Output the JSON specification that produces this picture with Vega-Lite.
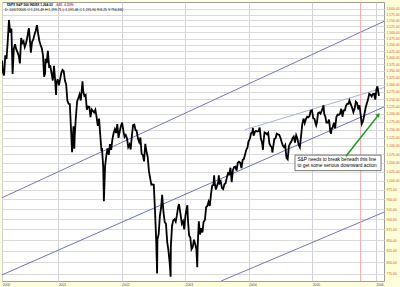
{
  "$schema": "https://vega.github.io/schema/vega-lite/v6.json",
  "width": 382,
  "height": 279,
  "autosize": {"type": "none"},
  "padding": {"left": 2, "top": 2, "right": 16, "bottom": 6},
  "background": "#fefed8",
  "config": {
    "view": {"fill": "#ffffff", "stroke": "#9c9c9c", "strokeWidth": 1},
    "font": "Liberation Sans"
  },
  "datasets": {
    "channels": [
      {"line": "A", "date": "2000-02-13", "value": 954.3},
      {"line": "A", "date": "2006-02-18", "value": 1546.1},
      {"line": "B", "date": "2000-02-13", "value": 772.8},
      {"line": "B", "date": "2006-02-18", "value": 1223.4},
      {"line": "C", "date": "2003-12-12", "value": 1149.7},
      {"line": "C", "date": "2006-02-18", "value": 1290.0},
      {"line": "D", "date": "2003-07-27", "value": 760.0},
      {"line": "D", "date": "2006-02-18", "value": 917.5}
    ],
    "spx": [
      {"date": "2000-02-14", "value": 1389}, {"date": "2000-02-18", "value": 1346}, {"date": "2000-02-25", "value": 1333},
      {"date": "2000-03-03", "value": 1409}, {"date": "2000-03-10", "value": 1395}, {"date": "2000-03-17", "value": 1464},
      {"date": "2000-03-24", "value": 1552}, {"date": "2000-03-31", "value": 1499}, {"date": "2000-04-07", "value": 1516},
      {"date": "2000-04-14", "value": 1339}, {"date": "2000-04-21", "value": 1434}, {"date": "2000-04-28", "value": 1452},
      {"date": "2000-05-05", "value": 1432}, {"date": "2000-05-12", "value": 1421}, {"date": "2000-05-19", "value": 1407},
      {"date": "2000-05-26", "value": 1378}, {"date": "2000-06-02", "value": 1477}, {"date": "2000-06-09", "value": 1457},
      {"date": "2000-06-16", "value": 1464}, {"date": "2000-06-23", "value": 1441}, {"date": "2000-06-30", "value": 1455},
      {"date": "2000-07-07", "value": 1478}, {"date": "2000-07-14", "value": 1509}, {"date": "2000-07-17", "value": 1517},
      {"date": "2000-07-21", "value": 1480}, {"date": "2000-07-28", "value": 1419}, {"date": "2000-08-04", "value": 1462},
      {"date": "2000-08-11", "value": 1471}, {"date": "2000-08-18", "value": 1491}, {"date": "2000-08-25", "value": 1507},
      {"date": "2000-09-01", "value": 1530}, {"date": "2000-09-08", "value": 1494}, {"date": "2000-09-15", "value": 1465},
      {"date": "2000-09-22", "value": 1449}, {"date": "2000-09-29", "value": 1436}, {"date": "2000-10-06", "value": 1408},
      {"date": "2000-10-12", "value": 1329}, {"date": "2000-10-18", "value": 1342}, {"date": "2000-10-20", "value": 1396},
      {"date": "2000-10-27", "value": 1379}, {"date": "2000-11-03", "value": 1426}, {"date": "2000-11-10", "value": 1365},
      {"date": "2000-11-17", "value": 1367}, {"date": "2000-11-24", "value": 1341}, {"date": "2000-12-01", "value": 1315},
      {"date": "2000-12-08", "value": 1369}, {"date": "2000-12-15", "value": 1313}, {"date": "2000-12-20", "value": 1264},
      {"date": "2000-12-22", "value": 1305}, {"date": "2000-12-29", "value": 1320}, {"date": "2001-01-05", "value": 1298},
      {"date": "2001-01-12", "value": 1318}, {"date": "2001-01-19", "value": 1342}, {"date": "2001-01-26", "value": 1354},
      {"date": "2001-02-02", "value": 1349}, {"date": "2001-02-09", "value": 1315}, {"date": "2001-02-16", "value": 1301},
      {"date": "2001-02-23", "value": 1245}, {"date": "2001-03-02", "value": 1234}, {"date": "2001-03-09", "value": 1233},
      {"date": "2001-03-16", "value": 1150}, {"date": "2001-03-22", "value": 1081}, {"date": "2001-03-30", "value": 1160},
      {"date": "2001-04-04", "value": 1091}, {"date": "2001-04-06", "value": 1128}, {"date": "2001-04-12", "value": 1183},
      {"date": "2001-04-20", "value": 1242}, {"date": "2001-04-27", "value": 1253}, {"date": "2001-05-04", "value": 1266},
      {"date": "2001-05-11", "value": 1245}, {"date": "2001-05-21", "value": 1312}, {"date": "2001-05-25", "value": 1277},
      {"date": "2001-06-01", "value": 1260}, {"date": "2001-06-08", "value": 1264}, {"date": "2001-06-15", "value": 1214},
      {"date": "2001-06-22", "value": 1225}, {"date": "2001-06-29", "value": 1224}, {"date": "2001-07-06", "value": 1190},
      {"date": "2001-07-13", "value": 1215}, {"date": "2001-07-20", "value": 1210}, {"date": "2001-07-27", "value": 1205},
      {"date": "2001-08-03", "value": 1214}, {"date": "2001-08-10", "value": 1190}, {"date": "2001-08-17", "value": 1162},
      {"date": "2001-08-24", "value": 1185}, {"date": "2001-08-31", "value": 1134}, {"date": "2001-09-07", "value": 1085},
      {"date": "2001-09-10", "value": 1093}, {"date": "2001-09-17", "value": 1039}, {"date": "2001-09-21", "value": 945},
      {"date": "2001-09-28", "value": 1041}, {"date": "2001-10-05", "value": 1071}, {"date": "2001-10-12", "value": 1092},
      {"date": "2001-10-19", "value": 1073}, {"date": "2001-10-26", "value": 1105}, {"date": "2001-11-02", "value": 1088},
      {"date": "2001-11-09", "value": 1120}, {"date": "2001-11-16", "value": 1139}, {"date": "2001-11-23", "value": 1151},
      {"date": "2001-11-30", "value": 1139}, {"date": "2001-12-07", "value": 1167}, {"date": "2001-12-14", "value": 1124},
      {"date": "2001-12-21", "value": 1144}, {"date": "2001-12-28", "value": 1161}, {"date": "2002-01-04", "value": 1172},
      {"date": "2002-01-11", "value": 1146}, {"date": "2002-01-18", "value": 1127}, {"date": "2002-01-25", "value": 1133},
      {"date": "2002-02-01", "value": 1122}, {"date": "2002-02-08", "value": 1096}, {"date": "2002-02-15", "value": 1104},
      {"date": "2002-02-22", "value": 1089}, {"date": "2002-03-01", "value": 1131}, {"date": "2002-03-08", "value": 1164},
      {"date": "2002-03-15", "value": 1166}, {"date": "2002-03-22", "value": 1148}, {"date": "2002-03-28", "value": 1147},
      {"date": "2002-04-05", "value": 1122}, {"date": "2002-04-12", "value": 1111}, {"date": "2002-04-19", "value": 1125},
      {"date": "2002-04-26", "value": 1076}, {"date": "2002-05-03", "value": 1073}, {"date": "2002-05-10", "value": 1054},
      {"date": "2002-05-17", "value": 1106}, {"date": "2002-05-24", "value": 1083}, {"date": "2002-05-31", "value": 1067},
      {"date": "2002-06-07", "value": 1027}, {"date": "2002-06-14", "value": 1007}, {"date": "2002-06-21", "value": 989},
      {"date": "2002-06-28", "value": 990}, {"date": "2002-07-05", "value": 989}, {"date": "2002-07-12", "value": 921},
      {"date": "2002-07-19", "value": 847}, {"date": "2002-07-24", "value": 776}, {"date": "2002-07-26", "value": 852},
      {"date": "2002-08-02", "value": 864}, {"date": "2002-08-09", "value": 908}, {"date": "2002-08-16", "value": 928},
      {"date": "2002-08-22", "value": 962}, {"date": "2002-08-30", "value": 916}, {"date": "2002-09-06", "value": 893},
      {"date": "2002-09-13", "value": 889}, {"date": "2002-09-20", "value": 846}, {"date": "2002-09-27", "value": 827},
      {"date": "2002-10-04", "value": 800}, {"date": "2002-10-10", "value": 769}, {"date": "2002-10-11", "value": 835},
      {"date": "2002-10-18", "value": 884}, {"date": "2002-10-25", "value": 897}, {"date": "2002-11-01", "value": 900},
      {"date": "2002-11-08", "value": 894}, {"date": "2002-11-15", "value": 910}, {"date": "2002-11-22", "value": 930},
      {"date": "2002-11-27", "value": 938}, {"date": "2002-12-06", "value": 912}, {"date": "2002-12-13", "value": 889},
      {"date": "2002-12-20", "value": 895}, {"date": "2002-12-27", "value": 875}, {"date": "2003-01-03", "value": 909},
      {"date": "2003-01-10", "value": 927}, {"date": "2003-01-14", "value": 935}, {"date": "2003-01-17", "value": 901},
      {"date": "2003-01-24", "value": 861}, {"date": "2003-01-31", "value": 856}, {"date": "2003-02-07", "value": 829},
      {"date": "2003-02-14", "value": 834}, {"date": "2003-02-21", "value": 851}, {"date": "2003-02-28", "value": 841},
      {"date": "2003-03-07", "value": 829}, {"date": "2003-03-12", "value": 789}, {"date": "2003-03-14", "value": 833},
      {"date": "2003-03-21", "value": 895}, {"date": "2003-03-28", "value": 863}, {"date": "2003-04-04", "value": 878},
      {"date": "2003-04-11", "value": 868}, {"date": "2003-04-17", "value": 893}, {"date": "2003-04-25", "value": 898},
      {"date": "2003-05-02", "value": 930}, {"date": "2003-05-09", "value": 933}, {"date": "2003-05-16", "value": 944},
      {"date": "2003-05-23", "value": 933}, {"date": "2003-05-30", "value": 964}, {"date": "2003-06-06", "value": 987},
      {"date": "2003-06-13", "value": 988}, {"date": "2003-06-17", "value": 1015}, {"date": "2003-06-20", "value": 995},
      {"date": "2003-06-27", "value": 976}, {"date": "2003-07-03", "value": 985}, {"date": "2003-07-11", "value": 998},
      {"date": "2003-07-14", "value": 1015}, {"date": "2003-07-18", "value": 993}, {"date": "2003-07-25", "value": 998},
      {"date": "2003-08-01", "value": 980}, {"date": "2003-08-08", "value": 977}, {"date": "2003-08-15", "value": 990},
      {"date": "2003-08-22", "value": 993}, {"date": "2003-08-29", "value": 1008}, {"date": "2003-09-05", "value": 1021},
      {"date": "2003-09-12", "value": 1018}, {"date": "2003-09-19", "value": 1036}, {"date": "2003-09-26", "value": 996},
      {"date": "2003-10-03", "value": 1029}, {"date": "2003-10-10", "value": 1038}, {"date": "2003-10-17", "value": 1039},
      {"date": "2003-10-24", "value": 1028}, {"date": "2003-10-31", "value": 1050}, {"date": "2003-11-07", "value": 1053},
      {"date": "2003-11-14", "value": 1050}, {"date": "2003-11-21", "value": 1035}, {"date": "2003-11-28", "value": 1058},
      {"date": "2003-12-05", "value": 1061}, {"date": "2003-12-12", "value": 1074}, {"date": "2003-12-19", "value": 1088},
      {"date": "2003-12-26", "value": 1095}, {"date": "2003-12-31", "value": 1112}, {"date": "2004-01-09", "value": 1122},
      {"date": "2004-01-16", "value": 1139}, {"date": "2004-01-23", "value": 1141}, {"date": "2004-01-26", "value": 1155},
      {"date": "2004-01-30", "value": 1131}, {"date": "2004-02-06", "value": 1142}, {"date": "2004-02-13", "value": 1146},
      {"date": "2004-02-20", "value": 1144}, {"date": "2004-02-27", "value": 1145}, {"date": "2004-03-05", "value": 1156},
      {"date": "2004-03-12", "value": 1121}, {"date": "2004-03-19", "value": 1109}, {"date": "2004-03-24", "value": 1088},
      {"date": "2004-03-26", "value": 1108}, {"date": "2004-04-02", "value": 1141}, {"date": "2004-04-09", "value": 1139},
      {"date": "2004-04-16", "value": 1135}, {"date": "2004-04-23", "value": 1140}, {"date": "2004-04-30", "value": 1107},
      {"date": "2004-05-07", "value": 1099}, {"date": "2004-05-14", "value": 1096}, {"date": "2004-05-17", "value": 1080},
      {"date": "2004-05-21", "value": 1094}, {"date": "2004-05-28", "value": 1121}, {"date": "2004-06-04", "value": 1122},
      {"date": "2004-06-11", "value": 1137}, {"date": "2004-06-18", "value": 1135}, {"date": "2004-06-25", "value": 1134},
      {"date": "2004-07-02", "value": 1125}, {"date": "2004-07-09", "value": 1112}, {"date": "2004-07-16", "value": 1101},
      {"date": "2004-07-23", "value": 1096}, {"date": "2004-07-30", "value": 1102}, {"date": "2004-08-06", "value": 1064},
      {"date": "2004-08-13", "value": 1060}, {"date": "2004-08-20", "value": 1099}, {"date": "2004-08-27", "value": 1107},
      {"date": "2004-09-03", "value": 1113}, {"date": "2004-09-10", "value": 1123}, {"date": "2004-09-17", "value": 1128},
      {"date": "2004-09-24", "value": 1110}, {"date": "2004-10-01", "value": 1132}, {"date": "2004-10-08", "value": 1122},
      {"date": "2004-10-15", "value": 1103}, {"date": "2004-10-22", "value": 1095}, {"date": "2004-10-29", "value": 1130},
      {"date": "2004-11-05", "value": 1167}, {"date": "2004-11-12", "value": 1185}, {"date": "2004-11-19", "value": 1170},
      {"date": "2004-11-26", "value": 1183}, {"date": "2004-12-03", "value": 1191}, {"date": "2004-12-10", "value": 1189},
      {"date": "2004-12-17", "value": 1194}, {"date": "2004-12-23", "value": 1210}, {"date": "2004-12-31", "value": 1212},
      {"date": "2005-01-07", "value": 1186}, {"date": "2005-01-14", "value": 1184}, {"date": "2005-01-21", "value": 1168},
      {"date": "2005-01-24", "value": 1163}, {"date": "2005-01-28", "value": 1171}, {"date": "2005-02-04", "value": 1203},
      {"date": "2005-02-11", "value": 1205}, {"date": "2005-02-18", "value": 1201}, {"date": "2005-02-25", "value": 1211},
      {"date": "2005-03-04", "value": 1222}, {"date": "2005-03-07", "value": 1229}, {"date": "2005-03-11", "value": 1201},
      {"date": "2005-03-18", "value": 1190}, {"date": "2005-03-24", "value": 1172}, {"date": "2005-04-01", "value": 1172},
      {"date": "2005-04-08", "value": 1182}, {"date": "2005-04-15", "value": 1143}, {"date": "2005-04-20", "value": 1137},
      {"date": "2005-04-22", "value": 1152}, {"date": "2005-04-29", "value": 1157}, {"date": "2005-05-06", "value": 1172},
      {"date": "2005-05-13", "value": 1154}, {"date": "2005-05-20", "value": 1190}, {"date": "2005-05-27", "value": 1198},
      {"date": "2005-06-03", "value": 1197}, {"date": "2005-06-10", "value": 1201}, {"date": "2005-06-17", "value": 1217},
      {"date": "2005-06-24", "value": 1191}, {"date": "2005-07-01", "value": 1212}, {"date": "2005-07-08", "value": 1212},
      {"date": "2005-07-15", "value": 1228}, {"date": "2005-07-22", "value": 1234}, {"date": "2005-07-29", "value": 1234},
      {"date": "2005-08-03", "value": 1245}, {"date": "2005-08-12", "value": 1231}, {"date": "2005-08-19", "value": 1220},
      {"date": "2005-08-26", "value": 1206}, {"date": "2005-09-02", "value": 1218}, {"date": "2005-09-09", "value": 1241},
      {"date": "2005-09-16", "value": 1237}, {"date": "2005-09-23", "value": 1215}, {"date": "2005-09-30", "value": 1229},
      {"date": "2005-10-07", "value": 1196}, {"date": "2005-10-13", "value": 1168}, {"date": "2005-10-21", "value": 1178},
      {"date": "2005-10-28", "value": 1198}, {"date": "2005-11-04", "value": 1220}, {"date": "2005-11-11", "value": 1235},
      {"date": "2005-11-18", "value": 1248}, {"date": "2005-11-25", "value": 1268}, {"date": "2005-12-02", "value": 1265},
      {"date": "2005-12-09", "value": 1259}, {"date": "2005-12-16", "value": 1267}, {"date": "2005-12-23", "value": 1268},
      {"date": "2005-12-30", "value": 1248}, {"date": "2006-01-06", "value": 1285}, {"date": "2006-01-11", "value": 1294},
      {"date": "2006-01-13", "value": 1287}, {"date": "2006-01-20", "value": 1261}
    ]
  },
  "layer": [
    {
      "data": {"name": "channels"},
      "mark": {"type": "line", "strokeWidth": 1, "clip": true},
      "encoding": {
        "x": {
          "field": "date", "type": "temporal",
          "scale": {"type": "utc", "nice": false, "domain": [{"year": 2000, "month": 2, "date": 13, "utc": true}, {"year": 2006, "month": 2, "date": 18, "utc": true}]},
          "axis": {
            "orient": "bottom", "title": null, "format": "%Y",
            "values": [
              {"year": 2000, "month": 2, "date": 14, "utc": true},
              {"year": 2001, "month": 1, "date": 1, "utc": true},
              {"year": 2002, "month": 1, "date": 1, "utc": true},
              {"year": 2003, "month": 1, "date": 1, "utc": true},
              {"year": 2004, "month": 1, "date": 1, "utc": true},
              {"year": 2005, "month": 1, "date": 1, "utc": true},
              {"year": 2006, "month": 1, "date": 1, "utc": true}
            ],
            "labelAlign": "left", "labelBaseline": "top", "labelPadding": 1, "labelFontSize": 3.4,
            "labelColor": "#4a4ab0", "labelFlush": false, "labelOverlap": false, "labelBound": false,
            "ticks": false, "domain": false, "grid": true, "gridColor": "#cfd0d8", "gridWidth": 1
          }
        },
        "y": {
          "field": "value", "type": "quantitative",
          "scale": {"type": "log", "nice": false, "domain": [760, 1630]},
          "axis": {
            "orient": "right", "title": null, "format": ",.2f",
            "values": [775, 800, 825, 850, 875, 900, 925, 950, 975, 1000, 1025, 1050, 1075, 1100, 1125, 1150, 1175, 1200, 1225, 1250, 1275, 1300, 1325, 1350, 1375, 1400, 1425, 1450, 1475, 1500, 1525, 1550, 1575, 1600],
            "labelFontSize": 3.4, "labelColor": "#e2561e", "labelPadding": 2, "labelFlush": false, "labelOverlap": false,
            "ticks": false, "domain": false, "grid": true, "gridColor": "#dadada", "gridWidth": 1
          }
        },
        "detail": {"field": "line"},
        "color": {"field": "line", "type": "nominal", "legend": null,
          "scale": {"domain": ["A", "B", "C", "D"], "range": ["#7474c4", "#6a72c4", "#aab4dc", "#7474c4"]}}
      }
    },
    {
      "data": {"values": [{}]},
      "mark": {"type": "rule", "color": "#eaa4a4", "strokeWidth": 1},
      "encoding": {
        "x": {"datum": {"year": 2005, "month": 10, "date": 7, "utc": true}, "type": "temporal"}
      }
    },
    {
      "data": {"name": "spx"},
      "mark": {"type": "line", "color": "#000000", "strokeWidth": 1.8, "clip": true},
      "encoding": {
        "x": {"field": "date", "type": "temporal"},
        "y": {"field": "value", "type": "quantitative"}
      }
    },
    {
      "data": {"values": [{}]},
      "mark": {"type": "rect", "fill": "#ffffff", "stroke": "#555555", "strokeWidth": 0.8},
      "encoding": {
        "x": {"datum": {"year": 2004, "month": 9, "date": 24, "utc": true}, "type": "temporal"},
        "x2": {"datum": {"year": 2006, "month": 2, "date": 1, "utc": true}},
        "y": {"datum": 1072.3, "type": "quantitative"},
        "y2": {"datum": 1027.8}
      }
    },
    {
      "data": {"values": [{}]},
      "mark": {"type": "text", "align": "left", "baseline": "top", "fontSize": 4.8, "lineHeight": 6.2, "color": "#000000",
        "text": ["S&P needs to break beneath this line", "to get some serious downward action"]},
      "encoding": {
        "x": {"datum": {"year": 2004, "month": 10, "date": 8, "utc": true}, "type": "temporal"},
        "y": {"datum": 1067.9, "type": "quantitative"}
      }
    },
    {
      "data": {"values": [{}]},
      "mark": {"type": "rule", "color": "#1f9a24", "strokeWidth": 1.6},
      "encoding": {
        "x": {"datum": {"year": 2005, "month": 7, "date": 14, "utc": true}, "type": "temporal"},
        "y": {"datum": 1069.3, "type": "quantitative"},
        "x2": {"datum": {"year": 2006, "month": 1, "date": 12, "utc": true}},
        "y2": {"datum": 1193}
      }
    },
    {
      "data": {"values": [{}]},
      "mark": {"type": "point", "shape": "triangle-up", "filled": true, "color": "#1f9a24", "size": 22, "angle": 38, "opacity": 1},
      "encoding": {
        "x": {"datum": {"year": 2006, "month": 1, "date": 17, "utc": true}, "type": "temporal"},
        "y": {"datum": 1197.9, "type": "quantitative"}
      }
    },
    {
      "data": {"values": [{}]},
      "mark": {"type": "text", "align": "left", "baseline": "middle", "fontSize": 3.2, "fontWeight": "bold", "color": "#000000",
        "text": "$SPX S&P 500 INDEX  1,264.03"},
      "encoding": {
        "x": {"datum": {"year": 2000, "month": 3, "date": 13, "utc": true}, "type": "temporal"},
        "y": {"datum": 1618.5, "type": "quantitative"}
      }
    },
    {
      "data": {"values": [{}]},
      "mark": {"type": "text", "align": "left", "baseline": "middle", "fontSize": 3.2, "fontWeight": "bold", "color": "#e02020",
        "text": "-6.81  -0.53%"},
      "encoding": {
        "x": {"datum": {"year": 2000, "month": 12, "date": 16, "utc": true}, "type": "temporal"},
        "y": {"datum": 1618.5, "type": "quantitative"}
      }
    },
    {
      "data": {"values": [{}]},
      "mark": {"type": "text", "align": "left", "baseline": "middle", "fontSize": 3.4, "color": "#000000",
        "text": "D: 10/07/2005  O:1,191.49  H:1,199.71  L:1,191.46  C:1,195.90  R:8.25  V:794,690"},
      "encoding": {
        "x": {"datum": {"year": 2000, "month": 3, "date": 1, "utc": true}, "type": "temporal"},
        "y": {"datum": 1594, "type": "quantitative"}
      }
    }
  ]
}
